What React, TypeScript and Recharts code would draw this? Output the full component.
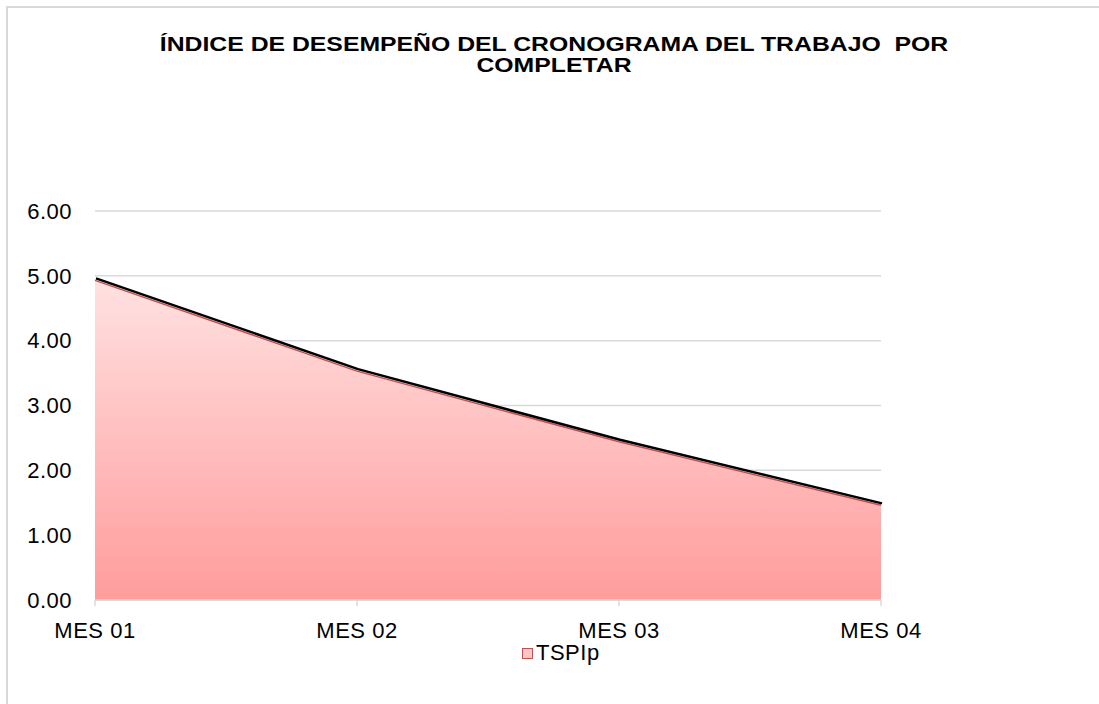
import { AreaChart, Area, Line, XAxis, YAxis, CartesianGrid } from 'recharts';

const months = ['MES 01', 'MES 02', 'MES 03', 'MES 04'];
const tspip = [4.93, 3.53, 2.44, 1.46];
const yTicks = [0, 1, 2, 3, 4, 5, 6];

const data = months.map((m, i) => ({ name: m, tspip: tspip[i] }));

const font = '"Liberation Sans", Arial, sans-serif';

export default function App() {
  return (
    <div style={{ position: 'absolute', left: 0, top: 0, width: 1099, height: 704, overflow: 'hidden', background: '#fff', fontFamily: font }}>
      <div style={{ position: 'absolute', left: 6, top: 6, width: 1200, height: 900, border: '2px solid #d9d9d9' }} />
      <div style={{ position: 'absolute', left: 0, top: 33, width: 1108, textAlign: 'center', fontWeight: 'bold', fontSize: 21, lineHeight: '21px', color: '#000', transform: 'scaleX(1.18)', transformOrigin: '554px 0' }}>
        ÍNDICE DE DESEMPEÑO DEL CRONOGRAMA DEL TRABAJO&nbsp; POR<br />COMPLETAR
      </div>
      <div style={{ position: 'absolute', left: 0, top: 0 }}>
        <AreaChart width={1099} height={704} data={data} margin={{ top: 211, right: 218, bottom: 0, left: 0 }}>
          <defs>
            <linearGradient id="tspFill" x1="0" y1="0" x2="0" y2="1">
              <stop offset="0%" stopColor="#ffe1e1" />
              <stop offset="100%" stopColor="#ff9c9c" />
            </linearGradient>
          </defs>
          <CartesianGrid vertical={false} stroke="#d9d9d9" strokeWidth={1.5} />
          <XAxis
            dataKey="name"
            height={104}
            stroke="#d9d9d9"
            strokeWidth={1.5}
            tickSize={6}
            tickMargin={16}
            tick={{ fill: '#000', fontSize: 22, fontFamily: font, letterSpacing: 0.5 }}
          />
          <YAxis
            width={95}
            domain={[0, 6]}
            ticks={yTicks}
            axisLine={false}
            tickLine={false}
            tickMargin={17}
            tickFormatter={(v: number) => v.toFixed(2)}
            tick={{ fill: '#000', fontSize: 22, fontFamily: font, letterSpacing: 0.5 }}
          />
          <Line
            type="linear"
            dataKey="tspip"
            stroke="#000"
            strokeWidth={2.5}
            dot={false}
            isAnimationActive={false}
            style={{ transform: 'translate(1px, -2px)' }}
          />
          <Area
            type="linear"
            dataKey="tspip"
            stroke="#c0504d"
            strokeWidth={1.5}
            fill="url(#tspFill)"
            fillOpacity={1}
            isAnimationActive={false}
          />
        </AreaChart>
      </div>
      <div style={{ position: 'absolute', left: 522, top: 640, display: 'flex', alignItems: 'center', fontSize: 22, letterSpacing: 0.5, color: '#000' }}>
        <span style={{ display: 'inline-block', width: 9, height: 9, background: '#ffc4c4', border: '1px solid #c0504d', marginRight: 3 }} />
        <span>TSPIp</span>
      </div>
    </div>
  );
}
